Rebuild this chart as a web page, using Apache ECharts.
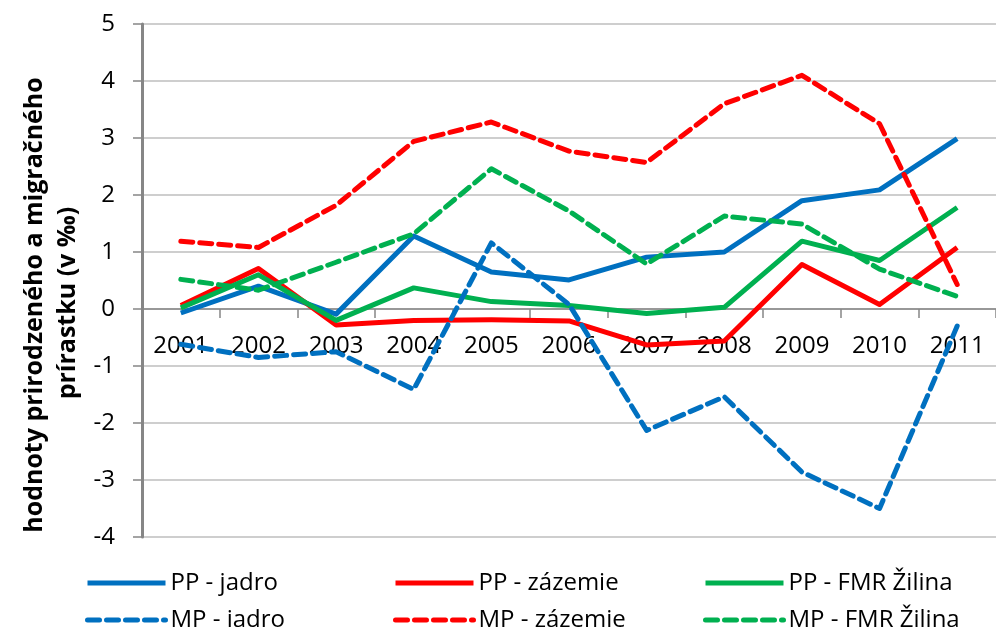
<!DOCTYPE html>
<html>
<head>
<meta charset="utf-8">
<script src="https://cdn.jsdelivr.net/npm/echarts@6/dist/echarts.min.js"></script>
<style>html,body{margin:0;padding:0;background:#fff}#c{width:996px;height:627px}</style>
</head>
<body>
<div id="c"></div>
<script>
var categories = ['2001','2002','2003','2004','2005','2006','2007','2008','2009','2010','2011'];
var ppJadro    = [-0.07, 0.40, -0.09, 1.28, 0.65, 0.51, 0.91, 1.00, 1.90, 2.09, 2.99];
var ppZazemie  = [0.06, 0.71, -0.28, -0.20, -0.19, -0.21, -0.63, -0.56, 0.78, 0.08, 1.08];
var ppFmr      = [0.02, 0.60, -0.20, 0.37, 0.13, 0.06, -0.08, 0.03, 1.19, 0.85, 1.78];
var mpJadro    = [-0.62, -0.85, -0.75, -1.41, 1.16, 0.08, -2.13, -1.54, -2.86, -3.50, -0.30];
var mpZazemie  = [1.19, 1.08, 1.82, 2.94, 3.28, 2.77, 2.57, 3.60, 4.10, 3.25, 0.43];
var mpFmr      = [0.52, 0.33, 0.82, 1.32, 2.46, 1.72, 0.79, 1.63, 1.49, 0.70, 0.22];
var seriesNames = ['PP - jadro','PP - zázemie','PP - FMR Žilina','MP - jadro','MP - zázemie','MP - FMR Žilina'];
var yTicks = {min: -4, max: 5, interval: 1};
var yTitle = ['hodnoty prirodzeného a migračného', 'prírastku (v ‰)'];

var BLUE = '#0070C0', RED = '#FF0000', GREEN = '#00B050';
var dataSets = [ppJadro, ppZazemie, ppFmr, mpJadro, mpZazemie, mpFmr];
var colors = [BLUE, RED, GREEN, BLUE, RED, GREEN];

var series = dataSets.map(function (d, i) {
  var dashed = i >= 3;
  return {
    name: seriesNames[i],
    type: 'line',
    data: d,
    symbol: 'none',
    showSymbol: false,
    smooth: false,
    color: colors[i],
    lineStyle: {
      color: colors[i],
      width: 5,
      type: dashed ? [12, 7] : 'solid',
      cap: dashed ? 'round' : 'butt',
      join: 'round'
    },
    emphasis: {disabled: true},
    animation: false,
    z: dashed ? 3 : 2
  };
});

var legendPos = [[80,566],[388,566],[698,566],[80,603],[388,603],[698,603]];
var legends = seriesNames.map(function (n, i) {
  return {
    data: [n],
    left: legendPos[i][0],
    top: legendPos[i][1],
    itemWidth: 78,
    itemHeight: 14,
    itemGap: 0,
    selectedMode: false,
    itemStyle: {opacity: 0},
    lineStyle: {width: 5},
    textStyle: {fontFamily: 'Open Sans', fontSize: 24, color: '#000', padding: [0,0,0,0]}
  };
});

var chart = echarts.init(document.getElementById('c'), null, {renderer: 'canvas'});
chart.setOption({
  animation: false,
  backgroundColor: '#fff',
  grid: {left: 142, right: -18, top: 24, bottom: 90, containLabel: false},
  legend: legends,
  xAxis: {
    type: 'category',
    data: categories,
    boundaryGap: true,
    position: 'bottom',
    offset: -228,
    axisLine: {onZero: false, lineStyle: {color: '#868686', width: 1.5}},
    axisTick: {show: true, alignWithLabel: false, length: 9, lineStyle: {color: '#868686', width: 1.5}},
    axisLabel: {fontFamily: 'Open Sans', fontSize: 24, color: '#000', margin: 25},
    splitLine: {show: false}
  },
  yAxis: {
    type: 'value',
    min: yTicks.min, max: yTicks.max, interval: yTicks.interval,
    axisLine: {show: true, lineStyle: {color: '#868686', width: 3}},
    axisTick: {show: true, length: 9, lineStyle: {color: '#868686', width: 1.5}},
    axisLabel: {fontFamily: 'Open Sans', fontSize: 24, color: '#000', margin: 27},
    splitLine: {show: true, lineStyle: {color: '#BEBEBE', width: 1.5}}
  },
  graphic: [{
    type: 'text',
    x: 35, y: 305,
    rotation: Math.PI / 2,
    style: {text: yTitle[0], fontFamily: 'Open Sans', fontWeight: 'bold', fontSize: 25, fill: '#000', align: 'center', verticalAlign: 'middle'}
  }, {
    type: 'text',
    x: 68, y: 303,
    rotation: Math.PI / 2,
    style: {text: yTitle[1], fontFamily: 'Open Sans', fontWeight: 'bold', fontSize: 25, fill: '#000', align: 'center', verticalAlign: 'middle'}
  }],
  series: series
});
</script>
</body>
</html>
